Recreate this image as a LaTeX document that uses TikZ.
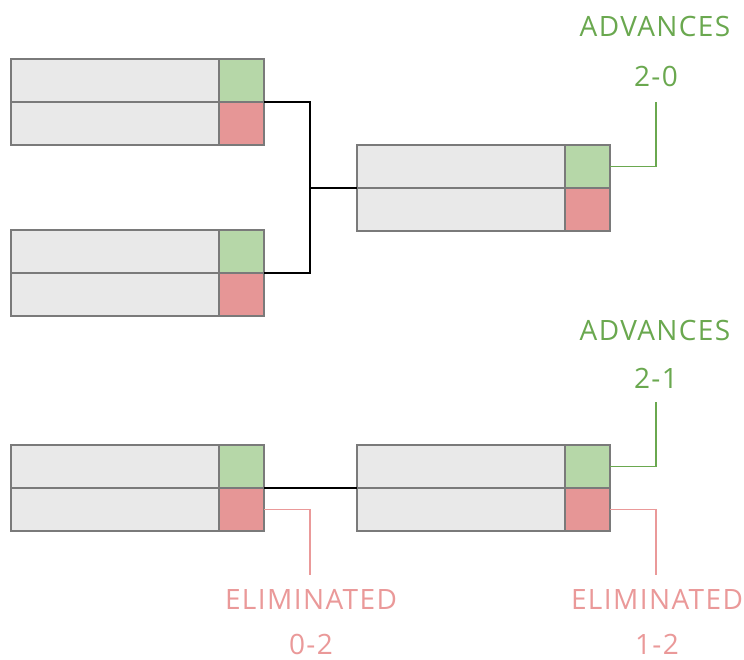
\documentclass[tikz,border=0pt]{standalone}
\usepackage{fontspec}
\setmainfont[LetterSpace=5]{Open Sans}
\usetikzlibrary{positioning}
\definecolor{slotgray}{HTML}{E9E9E9}
\definecolor{edgegray}{HTML}{7A7A7A}
\definecolor{wingreen}{HTML}{B6D7A8}
\definecolor{losered}{HTML}{E69696}
\definecolor{advgreen}{HTML}{6AA84F}
\definecolor{elimred}{HTML}{EA9999}

\begin{document}
\begin{tikzpicture}[x=1pt,y=-1pt,node distance=0pt,
    slot/.style={draw=edgegray,line width=1.6pt,inner sep=0pt,outer sep=0pt,minimum height=43pt},
    team/.style={slot,fill=slotgray,minimum width=208pt},
    win/.style={slot,fill=wingreen,minimum width=45pt},
    lose/.style={slot,fill=losered,minimum width=45pt},
    feed/.style={black,line width=1.4pt},
    advline/.style={advgreen,line width=1.4pt},
    elimline/.style={elimred,line width=1.4pt},
    advtext/.style={advgreen,font=\fontsize{28}{28}\selectfont,anchor=base,inner sep=0pt},
    elimtext/.style={elimred,font=\fontsize{28}{28}\selectfont,anchor=base,inner sep=0pt}]
    \useasboundingbox (0,0) rectangle (744,660);

    % upper bracket
    \node[team] (m1a) at (115,80.5) {};
    \node[team] (m1b) [below=of m1a] {};
    \node[win] (m1aw) [right=of m1a] {};
    \node[lose] (m1bl) [right=of m1b] {};

    \node[team] (m2a) at (115,251.5) {};
    \node[team] (m2b) [below=of m2a] {};
    \node[win] (m2aw) [right=of m2a] {};
    \node[lose] (m2bl) [right=of m2b] {};

    \node[team] (m3a) at (461,166.5) {};
    \node[team] (m3b) [below=of m3a] {};
    \node[win] (m3aw) [right=of m3a] {};
    \node[lose] (m3bl) [right=of m3b] {};

    % lower bracket
    \node[team] (m4a) at (115,466.5) {};
    \node[team] (m4b) [below=of m4a] {};
    \node[win] (m4aw) [right=of m4a] {};
    \node[lose] (m4bl) [right=of m4b] {};

    \node[team] (m5a) at (461,466.5) {};
    \node[team] (m5b) [below=of m5a] {};
    \node[win] (m5aw) [right=of m5a] {};
    \node[lose] (m5bl) [right=of m5b] {};

    % results
    \node[advtext] (adv1) at (655,37) {ADVANCES};
    \node[advtext] (adv1s) at (656,87) {2-0};
    \node[advtext] (adv2) at (655,340) {ADVANCES};
    \node[advtext] (adv2s) at (656,388) {2-1};
    \node[elimtext] (elim1) at (311,609) {ELIMINATED};
    \node[elimtext] (elim1s) at (311,654) {0-2};
    \node[elimtext] (elim2) at (657,609) {ELIMINATED};
    \node[elimtext] (elim2s) at (657,654) {1-2};

    \coordinate (join) at (310,188);
    \coordinate (adv1end) at (656,102);
    \coordinate (adv2end) at (656,402);
    \coordinate (elim1end) at (310,575);
    \coordinate (elim2end) at (656,575);

    \draw[feed] (m1aw.south east) -| (join) |- (m2aw.south east);
    \draw[feed] (join) -- (m3a.south west);
    \draw[feed] (m4aw.south east) -- (m5a.south west);

    \draw[advline] (m3aw.east) -| (adv1end);
    \draw[advline] (m5aw.east) -| (adv2end);
    \draw[elimline] (m4bl.east) -| (elim1end);
    \draw[elimline] (m5bl.east) -| (elim2end);
\end{tikzpicture}
\end{document}
